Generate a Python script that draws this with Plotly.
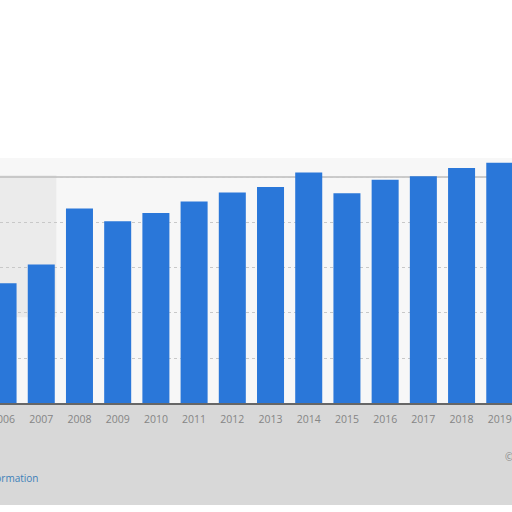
import plotly.graph_objects as go

# data (units unknown, axis labels cropped out)
years = [2005, 2006, 2007, 2008, 2009, 2010, 2011, 2012, 2013, 2014, 2015, 2016, 2017, 2018, 2019, 2020]
values = [120, 133, 154, 216, 202, 211, 224, 234, 240, 256, 233, 248, 252, 261, 267, 270]
tick_years = years[1:15]

W, H = 512, 512
top_px, base_px = 158, 403
plot_h = base_px - top_px

fig = go.Figure(go.Bar(
    x=years, y=values, width=0.707,
    marker=dict(color="#2a77d9", line=dict(width=0)),
))

fig.update_layout(
    width=W, height=H,
    margin=dict(l=0, r=0, t=top_px, b=H - base_px, pad=0),
    paper_bgcolor="white",
    plot_bgcolor="#f7f7f7",
    showlegend=False,
    font=dict(family="Open Sans", color="#777777", size=10),
    xaxis=dict(
        range=[2005.92, 2019.32], tickmode="array", tickvals=tick_years,
        ticktext=[str(y) for y in tick_years], showgrid=False,
        showline=True, linecolor="#666666", linewidth=1.5,
        ticks="", ticklabelstandoff=6, ticklabeloverflow="allow",
        automargin=False, tickfont=dict(size=10.5, color="#858585"),
    ),
    yaxis=dict(
        range=[0, 272.2], dtick=50, showticklabels=False, automargin=False,
        gridcolor="#c8c8c8", griddash="dot", gridwidth=1, zeroline=False,
    ),
    shapes=[
        # blurred grey band behind the lower part of the screenshot
        dict(type="rect", xref="paper", yref="paper", x0=0, x1=1,
             y0=-(505 - base_px) / plot_h, y1=0,
             fillcolor="#d8d8d8", line=dict(width=0), layer="below"),
        dict(type="rect", xref="paper", yref="paper", x0=0, x1=0.11, y0=0.35, y1=0.93,
             fillcolor="#dcdcdc", opacity=0.45, line=dict(width=0), layer="below"),
        # frame line at the top of the panel
        dict(type="line", xref="paper", yref="paper", x0=0, x1=1,
             y0=(base_px - 177) / plot_h, y1=(base_px - 177) / plot_h,
             line=dict(color="#bdbdbd", width=1.5), layer="below"),
    ],
    annotations=[
        dict(text="Additional Information", xref="paper", yref="paper",
             x=40 / W, y=-(478 - base_px) / plot_h, xanchor="right", yanchor="middle",
             showarrow=False, font=dict(size=10, color="#3d80b8")),
        dict(text="© Statista 2021", xref="paper", yref="paper",
             x=503 / W, y=-(457 - base_px) / plot_h, xanchor="left", yanchor="middle",
             showarrow=False, font=dict(size=10, color="#888888")),
    ],
)

fig.write_html("out.html", config={"displayModeBar": False},
               post_script="document.body.style.margin='0';")
